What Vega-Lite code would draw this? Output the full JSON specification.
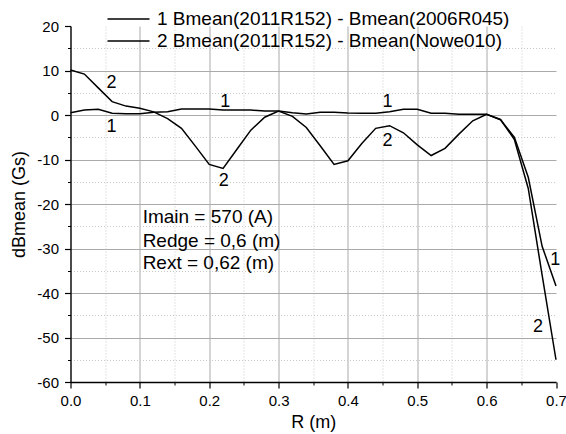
{
  "$schema": "https://vega.github.io/schema/vega-lite/v6.json",
  "width": 485.5,
  "height": 356,
  "autosize": {"type": "none"},
  "padding": {"left": 70.5, "top": 26, "right": 10, "bottom": 52},
  "config": {
    "view": {"stroke": null},
    "font": "Liberation Sans",
    "axis": {"labelFlush": false, "labelOverlap": false}
  },
  "datasets": {
    "curves": [
      {"r": 0.00, "db": 0.5, "s": "1 Bmean(2011R152) - Bmean(2006R045)"},
      {"r": 0.02, "db": 1.1, "s": "1 Bmean(2011R152) - Bmean(2006R045)"},
      {"r": 0.04, "db": 1.3, "s": "1 Bmean(2011R152) - Bmean(2006R045)"},
      {"r": 0.06, "db": 0.4, "s": "1 Bmean(2011R152) - Bmean(2006R045)"},
      {"r": 0.08, "db": 0.3, "s": "1 Bmean(2011R152) - Bmean(2006R045)"},
      {"r": 0.10, "db": 0.3, "s": "1 Bmean(2011R152) - Bmean(2006R045)"},
      {"r": 0.12, "db": 0.6, "s": "1 Bmean(2011R152) - Bmean(2006R045)"},
      {"r": 0.14, "db": 0.75, "s": "1 Bmean(2011R152) - Bmean(2006R045)"},
      {"r": 0.16, "db": 1.35, "s": "1 Bmean(2011R152) - Bmean(2006R045)"},
      {"r": 0.18, "db": 1.35, "s": "1 Bmean(2011R152) - Bmean(2006R045)"},
      {"r": 0.20, "db": 1.35, "s": "1 Bmean(2011R152) - Bmean(2006R045)"},
      {"r": 0.22, "db": 1.1, "s": "1 Bmean(2011R152) - Bmean(2006R045)"},
      {"r": 0.24, "db": 1.1, "s": "1 Bmean(2011R152) - Bmean(2006R045)"},
      {"r": 0.26, "db": 1.1, "s": "1 Bmean(2011R152) - Bmean(2006R045)"},
      {"r": 0.28, "db": 0.9, "s": "1 Bmean(2011R152) - Bmean(2006R045)"},
      {"r": 0.30, "db": 0.9, "s": "1 Bmean(2011R152) - Bmean(2006R045)"},
      {"r": 0.32, "db": 0.5, "s": "1 Bmean(2011R152) - Bmean(2006R045)"},
      {"r": 0.34, "db": 0.2, "s": "1 Bmean(2011R152) - Bmean(2006R045)"},
      {"r": 0.36, "db": 0.6, "s": "1 Bmean(2011R152) - Bmean(2006R045)"},
      {"r": 0.38, "db": 0.6, "s": "1 Bmean(2011R152) - Bmean(2006R045)"},
      {"r": 0.40, "db": 0.45, "s": "1 Bmean(2011R152) - Bmean(2006R045)"},
      {"r": 0.42, "db": 0.4, "s": "1 Bmean(2011R152) - Bmean(2006R045)"},
      {"r": 0.44, "db": 0.4, "s": "1 Bmean(2011R152) - Bmean(2006R045)"},
      {"r": 0.46, "db": 0.75, "s": "1 Bmean(2011R152) - Bmean(2006R045)"},
      {"r": 0.48, "db": 1.3, "s": "1 Bmean(2011R152) - Bmean(2006R045)"},
      {"r": 0.50, "db": 1.3, "s": "1 Bmean(2011R152) - Bmean(2006R045)"},
      {"r": 0.52, "db": 0.4, "s": "1 Bmean(2011R152) - Bmean(2006R045)"},
      {"r": 0.54, "db": 0.4, "s": "1 Bmean(2011R152) - Bmean(2006R045)"},
      {"r": 0.56, "db": 0.15, "s": "1 Bmean(2011R152) - Bmean(2006R045)"},
      {"r": 0.58, "db": 0.15, "s": "1 Bmean(2011R152) - Bmean(2006R045)"},
      {"r": 0.60, "db": 0.15, "s": "1 Bmean(2011R152) - Bmean(2006R045)"},
      {"r": 0.62, "db": -1.1, "s": "1 Bmean(2011R152) - Bmean(2006R045)"},
      {"r": 0.64, "db": -5.0, "s": "1 Bmean(2011R152) - Bmean(2006R045)"},
      {"r": 0.66, "db": -14.0, "s": "1 Bmean(2011R152) - Bmean(2006R045)"},
      {"r": 0.68, "db": -29.5, "s": "1 Bmean(2011R152) - Bmean(2006R045)"},
      {"r": 0.70, "db": -38.4, "s": "1 Bmean(2011R152) - Bmean(2006R045)"},
      {"r": 0.00, "db": 10.1, "s": "2 Bmean(2011R152) - Bmean(Nowe010)"},
      {"r": 0.02, "db": 9.2, "s": "2 Bmean(2011R152) - Bmean(Nowe010)"},
      {"r": 0.04, "db": 6.1, "s": "2 Bmean(2011R152) - Bmean(Nowe010)"},
      {"r": 0.06, "db": 3.0, "s": "2 Bmean(2011R152) - Bmean(Nowe010)"},
      {"r": 0.08, "db": 2.0, "s": "2 Bmean(2011R152) - Bmean(Nowe010)"},
      {"r": 0.10, "db": 1.5, "s": "2 Bmean(2011R152) - Bmean(Nowe010)"},
      {"r": 0.12, "db": 0.7, "s": "2 Bmean(2011R152) - Bmean(Nowe010)"},
      {"r": 0.14, "db": -0.8, "s": "2 Bmean(2011R152) - Bmean(Nowe010)"},
      {"r": 0.16, "db": -3.0, "s": "2 Bmean(2011R152) - Bmean(Nowe010)"},
      {"r": 0.18, "db": -7.0, "s": "2 Bmean(2011R152) - Bmean(Nowe010)"},
      {"r": 0.20, "db": -11.1, "s": "2 Bmean(2011R152) - Bmean(Nowe010)"},
      {"r": 0.22, "db": -12.0, "s": "2 Bmean(2011R152) - Bmean(Nowe010)"},
      {"r": 0.24, "db": -7.7, "s": "2 Bmean(2011R152) - Bmean(Nowe010)"},
      {"r": 0.26, "db": -3.4, "s": "2 Bmean(2011R152) - Bmean(Nowe010)"},
      {"r": 0.28, "db": -0.5, "s": "2 Bmean(2011R152) - Bmean(Nowe010)"},
      {"r": 0.30, "db": 0.9, "s": "2 Bmean(2011R152) - Bmean(Nowe010)"},
      {"r": 0.32, "db": -0.3, "s": "2 Bmean(2011R152) - Bmean(Nowe010)"},
      {"r": 0.34, "db": -2.8, "s": "2 Bmean(2011R152) - Bmean(Nowe010)"},
      {"r": 0.36, "db": -6.9, "s": "2 Bmean(2011R152) - Bmean(Nowe010)"},
      {"r": 0.38, "db": -11.1, "s": "2 Bmean(2011R152) - Bmean(Nowe010)"},
      {"r": 0.40, "db": -10.3, "s": "2 Bmean(2011R152) - Bmean(Nowe010)"},
      {"r": 0.42, "db": -6.4, "s": "2 Bmean(2011R152) - Bmean(Nowe010)"},
      {"r": 0.44, "db": -3.0, "s": "2 Bmean(2011R152) - Bmean(Nowe010)"},
      {"r": 0.46, "db": -2.4, "s": "2 Bmean(2011R152) - Bmean(Nowe010)"},
      {"r": 0.48, "db": -4.0, "s": "2 Bmean(2011R152) - Bmean(Nowe010)"},
      {"r": 0.50, "db": -6.7, "s": "2 Bmean(2011R152) - Bmean(Nowe010)"},
      {"r": 0.52, "db": -9.1, "s": "2 Bmean(2011R152) - Bmean(Nowe010)"},
      {"r": 0.54, "db": -7.5, "s": "2 Bmean(2011R152) - Bmean(Nowe010)"},
      {"r": 0.56, "db": -4.3, "s": "2 Bmean(2011R152) - Bmean(Nowe010)"},
      {"r": 0.58, "db": -1.3, "s": "2 Bmean(2011R152) - Bmean(Nowe010)"},
      {"r": 0.60, "db": 0.15, "s": "2 Bmean(2011R152) - Bmean(Nowe010)"},
      {"r": 0.62, "db": -1.0, "s": "2 Bmean(2011R152) - Bmean(Nowe010)"},
      {"r": 0.64, "db": -5.5, "s": "2 Bmean(2011R152) - Bmean(Nowe010)"},
      {"r": 0.66, "db": -16.5, "s": "2 Bmean(2011R152) - Bmean(Nowe010)"},
      {"r": 0.68, "db": -36.0, "s": "2 Bmean(2011R152) - Bmean(Nowe010)"},
      {"r": 0.70, "db": -55.0, "s": "2 Bmean(2011R152) - Bmean(Nowe010)"}
    ],
    "curveLabels": [
      {"r": 0.059, "db": 7.1, "t": "2"},
      {"r": 0.059, "db": -2.8, "t": "1"},
      {"r": 0.223, "db": 3.0, "t": "1"},
      {"r": 0.221, "db": -14.8, "t": "2"},
      {"r": 0.457, "db": 2.85, "t": "1"},
      {"r": 0.457, "db": -5.8, "t": "2"},
      {"r": 0.699, "db": -32.6, "t": "1"},
      {"r": 0.674, "db": -47.6, "t": "2"}
    ],
    "notes": [
      {"r": 0.104, "db": -22.85, "t": "Imain = 570 (A)"},
      {"r": 0.104, "db": -28.25, "t": "Redge = 0,6 (m)"},
      {"r": 0.104, "db": -33.3, "t": "Rext = 0,62 (m)"}
    ]
  },
  "resolve": {"axis": {"x": "independent", "y": "independent"}},
  "layer": [
    {
      "data": {"name": "curves"},
      "mark": {"type": "line", "strokeWidth": 1.5},
      "encoding": {
        "x": {"field": "r", "type": "quantitative", "scale": {"domain": [0, 0.7], "nice": false, "zero": false},
          "axis": {"orient": "bottom", "values": [0.05, 0.15, 0.25, 0.35, 0.45, 0.55, 0.65], "labels": false, "title": null, "domain": false,
            "tickSize": 3, "tickColor": "black", "grid": true, "gridColor": "#c8c8c8", "gridDash": [1, 2], "gridWidth": 1}},
        "y": {"field": "db", "type": "quantitative", "scale": {"domain": [-60, 20], "nice": false, "zero": false},
          "axis": {"orient": "left", "values": [15, 5, -5, -15, -25, -35, -45, -55], "labels": false, "title": null, "domain": false,
            "tickSize": 3, "tickColor": "black", "grid": true, "gridColor": "#c8c8c8", "gridDash": [1, 2], "gridWidth": 1}},
        "color": {"field": "s", "type": "nominal", "scale": {"range": ["black", "black"]},
          "legend": {"orient": "none", "legendX": 48.5, "legendY": -16.5, "title": null, "symbolType": "M-3,0H3", "symbolSize": 196,
            "symbolStrokeWidth": 1.5, "labelFontSize": 19, "labelColor": "black", "labelLimit": 0, "rowPadding": 2, "labelOffset": 19, "padding": 0}}
      }
    },
    {
      "data": {"name": "curveLabels"},
      "mark": {"type": "text", "fontSize": 18, "color": "black", "align": "center", "baseline": "middle"},
      "encoding": {
        "x": {"field": "r", "type": "quantitative",
          "axis": {"orient": "bottom", "values": [0, 0.1, 0.2, 0.3, 0.4, 0.5, 0.6, 0.7], "labelExpr": "format(datum.value, '.1f')", "grid": true, "gridColor": "#aaaaaa", "gridWidth": 1,
            "gridOpacity": {"condition": {"test": "datum.value >= 0.69", "value": 0}, "value": 1},
            "domain": true, "domainColor": "black", "domainWidth": 1.3, "tickSize": 6, "tickColor": "black", "tickWidth": 1.2,
            "labelFontSize": 15, "labelColor": "black", "labelPadding": 5, "title": "R (m)", "titleFontSize": 18, "titleFontWeight": "normal",
            "titleColor": "black", "titlePadding": 5}},
        "y": {"field": "db", "type": "quantitative",
          "axis": {"orient": "left", "values": [-60, -50, -40, -30, -20, -10, 0, 10, 20], "labelExpr": "toString(datum.value)", "grid": true, "gridColor": "#aaaaaa", "gridWidth": 1,
            "gridOpacity": {"condition": {"test": "datum.value >= 19", "value": 0}, "value": 1},
            "domain": true, "domainColor": "black", "domainWidth": 1.3, "tickSize": 6, "tickColor": "black", "tickWidth": 1.2,
            "labelFontSize": 15, "labelColor": "black", "labelPadding": 6, "title": "dBmean (Gs)", "titleFontSize": 18, "titleFontWeight": "normal",
            "titleColor": "black", "titlePadding": 8}},
        "text": {"field": "t", "type": "nominal"}
      }
    },
    {
      "data": {"name": "notes"},
      "mark": {"type": "text", "fontSize": 19, "color": "black", "align": "left", "baseline": "middle"},
      "encoding": {
        "x": {"field": "r", "type": "quantitative", "axis": null},
        "y": {"field": "db", "type": "quantitative", "axis": null},
        "text": {"field": "t", "type": "nominal"}
      }
    }
  ]
}
